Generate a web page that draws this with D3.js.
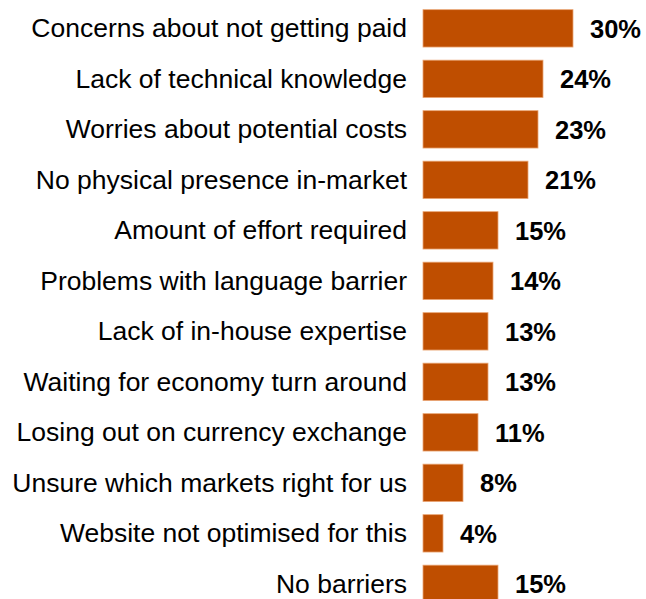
<!DOCTYPE html>
<html>
<head>
<meta charset="utf-8">
<script src="https://cdn.jsdelivr.net/npm/d3@7"></script>
<style>
  html, body { margin: 0; padding: 0; background: #ffffff; }
  svg { display: block; }
  text { font-family: "Liberation Sans", Arial, Helvetica, sans-serif; fill: #000; }
</style>
</head>
<body>
<svg id="chart" width="646" height="599"></svg>
<script>
// Barriers to selling abroad: share of respondents citing each one
const categories = [
  "Concerns about not getting paid",
  "Lack of technical knowledge",
  "Worries about potential costs",
  "No physical presence in-market",
  "Amount of effort required",
  "Problems with language barrier",
  "Lack of in-house expertise",
  "Waiting for economy turn around",
  "Losing out on currency exchange",
  "Unsure which markets right for us",
  "Website not optimised for this",
  "No barriers"
];
const values = [30, 24, 23, 21, 15, 14, 13, 13, 11, 8, 4, 15];
const valueLabels = values.map(v => v + "%");

const svg = d3.select("#chart");

const x = d3.scaleLinear().domain([0, 30]).range([423, 573]);
const y = d3.scaleBand()
  .domain(categories)
  .range([3.1, 3.1 + categories.length * 50.5])
  .paddingInner(0.26)
  .paddingOuter(0.13);

// Category labels on the left
svg.append("g")
  .selectAll("text")
  .data(categories)
  .join("text")
  .attr("x", 407)
  .attr("y", d => y(d) + y.bandwidth() / 2 + 9)
  .attr("text-anchor", "end")
  .style("font-size", "26.5px")
  .text(d => d);

// Bars
svg.append("g")
  .selectAll("rect")
  .data(values)
  .join("rect")
  .attr("x", x(0))
  .attr("y", (d, i) => y(categories[i]))
  .attr("width", d => x(d) - x(0))
  .attr("height", y.bandwidth())
  .attr("fill", "#bf4e00")
  .attr("stroke", "#eaa574")
  .attr("stroke-width", 0.8);

// Value labels
svg.append("g")
  .selectAll("text")
  .data(values)
  .join("text")
  .attr("x", d => x(d) + 17)
  .attr("y", (d, i) => y(categories[i]) + y.bandwidth() / 2 + 9.5)
  .style("font-size", "25.5px")
  .style("font-weight", "bold")
  .text((d, i) => valueLabels[i]);
</script>
</body>
</html>
